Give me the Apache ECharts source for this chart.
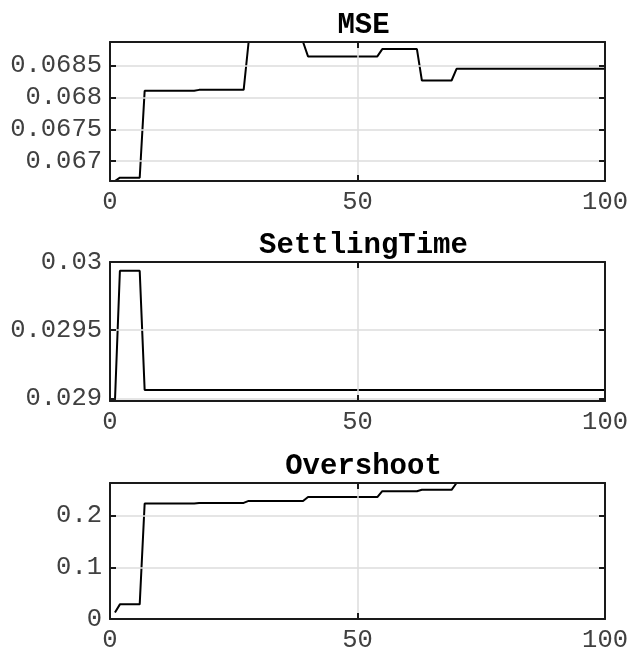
<!DOCTYPE html>
<html>
<head>
<meta charset="utf-8">
<script src="https://cdn.jsdelivr.net/npm/echarts@6/dist/echarts.min.js"></script>
<style>
  html, body { margin: 0; padding: 0; background: #fff; }
  #chart { width: 631px; height: 653px; }
</style>
</head>
<body>
<div id="chart"></div>
<script>
// Best-so-far objective traces per iteration (values change only at the listed iterations)
const titles = ['MSE', 'SettlingTime', 'Overshoot'];

const mseIter = [1, 2, 6, 7, 17, 18, 27, 28, 39, 40, 54, 55, 62, 63, 69, 70, 100];
const mseVal = [0.06669, 0.066742, 0.066742, 0.068105, 0.068105, 0.06812, 0.06812, 0.068871, 0.068871,
                0.068645, 0.068645, 0.06876, 0.06876, 0.068267, 0.068267, 0.068451, 0.068451];

const settleIter = [1, 2, 6, 7, 100];
const settleVal = [0.02898, 0.029936, 0.029936, 0.029061, 0.029061];

const overIter = [1, 2, 6, 7, 17, 18, 27, 28, 39, 40, 54, 55, 62, 63, 69, 70, 100];
const overVal = [0.0126, 0.0283, 0.0283, 0.2234, 0.2234, 0.2245, 0.2245, 0.2283, 0.2283,
                 0.2358, 0.2358, 0.2472, 0.2472, 0.2498, 0.2498, 0.263, 0.263];

// y-axis limits and tick labels for each panel
const yLimits = [[0.06669, 0.068871], [0.02898, 0.03], [0, 0.263]];
const yTickLabels = [
  ['0.067', '0.0675', '0.068', '0.0685'],
  ['0.029', '0.0295', '0.03'],
  ['0', '0.1', '0.2']
];
const ySplit = [4, 2, 3];
const xTickLabels = ['0', '50', '100'];

const iters = [mseIter, settleIter, overIter];
const vals = [mseVal, settleVal, overVal];

const FONT = '"Liberation Mono", "Courier New", monospace';
const gridTops = [42, 262, 483];
const gridH = 139;
const gridLeft = 110, gridRight = 24;
const BOX = '#1a1a1a';

function labelFor(list) {
  return function (v) {
    for (const s of list) {
      if (Math.abs(parseFloat(s) - v) < 1e-9 + Math.abs(v) * 1e-7) return s;
    }
    return '';
  };
}

const option = {
  animation: false,
  backgroundColor: '#fff',
  title: [], grid: [], xAxis: [], yAxis: [], series: []
};

titles.forEach(function (name, i) {
  option.title.push({
    text: name,
    left: gridLeft + (631 - gridLeft - gridRight) / 2,
    textAlign: 'center',
    top: gridTops[i] - 36,
    textStyle: { fontFamily: FONT, fontWeight: 'bold', fontSize: 29, color: '#000' }
  });
  option.grid.push({
    left: gridLeft, right: gridRight, top: gridTops[i], height: gridH,
    show: false, containLabel: false
  });
  const tickStyle = { show: true, inside: true, length: 6, lineStyle: { color: BOX, width: 2 } };
  const boxLine = { show: true, onZero: false, lineStyle: { color: BOX, width: 2 } };
  // bottom x axis with labels
  option.xAxis.push({
    type: 'value', gridIndex: i, min: 0, max: 100, interval: 50, position: 'bottom',
    axisLine: boxLine,
    axisTick: tickStyle,
    axisLabel: {
      show: true, margin: 8, fontFamily: FONT, fontSize: 25.5, color: '#404040',
      formatter: labelFor(xTickLabels)
    },
    splitLine: { show: true, lineStyle: { color: '#dcdcdc', width: 1.5 } },
    z: 5
  });
  // top x axis: tick marks only
  option.xAxis.push({
    type: 'value', gridIndex: i, min: 0, max: 100, interval: 50, position: 'top',
    axisLine: boxLine, axisTick: tickStyle,
    axisLabel: { show: false }, splitLine: { show: false },
    z: 5
  });
  // left y axis with labels
  option.yAxis.push({
    type: 'value', gridIndex: i, min: yLimits[i][0], max: yLimits[i][1],
    splitNumber: ySplit[i], position: 'left',
    axisLine: boxLine,
    axisTick: tickStyle,
    axisLabel: {
      show: true, margin: 8, fontFamily: FONT, fontSize: 25.5, color: '#404040',
      formatter: labelFor(yTickLabels[i])
    },
    splitLine: { show: true, lineStyle: { color: '#dcdcdc', width: 1.5 } },
    z: 5
  });
  // right y axis: tick marks only
  option.yAxis.push({
    type: 'value', gridIndex: i, min: yLimits[i][0], max: yLimits[i][1],
    splitNumber: ySplit[i], position: 'right',
    axisLine: boxLine, axisTick: tickStyle,
    axisLabel: { show: false }, splitLine: { show: false },
    z: 5
  });
  option.series.push({
    type: 'line', name: name,
    xAxisIndex: i * 2, yAxisIndex: i * 2,
    data: iters[i].map(function (x, k) { return [x, vals[i][k]]; }),
    showSymbol: false, symbol: 'none',
    lineStyle: { color: '#000', width: 2 },
    clip: true
  });
});

const chart = echarts.init(document.getElementById('chart'), null, { renderer: 'canvas' });
chart.setOption(option);
</script>
</body>
</html>
